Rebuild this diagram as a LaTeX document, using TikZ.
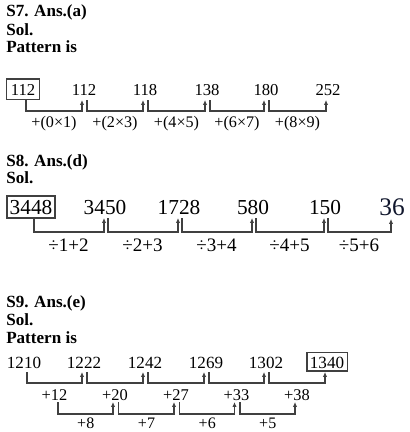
\documentclass[tikz,border=0pt]{standalone}
\usepackage{fontspec}
\setmainfont{Liberation Serif}
\definecolor{SolGrey}{RGB}{64, 64, 64}
\definecolor{SolNavy}{RGB}{16, 22, 44}
\usetikzlibrary{arrows.meta, positioning, calc}

\begin{document}
\begin{tikzpicture}[x=0.75pt, y=-0.75pt,
    head/.style={font=\fontsize{12.8}{14}\selectfont\bfseries, anchor=base west, inner sep=0pt},
    numS/.style={font=\fontsize{12.5}{14}\selectfont, anchor=base, inner sep=0pt},
    numL/.style={font=\fontsize{16}{18}\selectfont, anchor=base, inner sep=0pt},
    opS/.style={font=\fontsize{12.1}{13}\selectfont, anchor=base, inner sep=0pt},
    opL/.style={font=\fontsize{14.3}{16}\selectfont, anchor=base, inner sep=0pt},
    opM/.style={font=\fontsize{12.3}{14}\selectfont, anchor=base, inner sep=0pt},
    ansbox/.style={draw=SolGrey, line width=0.95pt, text height=9.4pt, text depth=0pt, inner ysep=3pt},
    link/.style={draw=SolGrey, line width=0.9pt, -{Latex[length=3.6pt, width=3.2pt]}}]
  \useasboundingbox (0,0) rectangle (410,432);

  % S7
  \node[head] (t7) at (6,16.7) {S7. Ans.(a)};
  \node[head] (s7) at (6,35) {Sol.};
  \node[head] (p7) at (6,52.3) {Pattern is};
  \node[numS, ansbox, inner xsep=3pt] (a1) at (23,95.5) {112};
  \foreach \nm/\xx/\tx in {a2/84/112, a3/145/118, a4/207/138, a5/266/180, a6/328/252}
    \node[numS] (\nm) at (\xx,95.5) {\tx};
  \foreach \i/\j/\op in {1/2/{+(0×1)}, 2/3/{+(2×3)}, 3/4/{+(4×5)}, 4/5/{+(6×7)}, 5/6/{+(8×9)}} {
    \draw[link] ($(a\i.base)+(3,4.5)$) -- ++(0,11) -| ($(a\j.base)+(-2,4.5)$);
    \node[opS] (o\i) at ($(a\i.base)!0.5!(a\j.base)+(0.5,31.5)$) {\op};
  }

  % S8
  \node[head] (t8) at (6,166) {S8. Ans.(d)};
  \node[head] (s8) at (6,183.3) {Sol.};
  \node[numL, ansbox, text height=10.5pt, inner xsep=2pt] (b1) at (31,214) {3448};
  \foreach \nm/\xx/\tx in {b2/105/3450, b3/179/1728, b4/253/580, b5/325/150}
    \node[numL] (\nm) at (\xx,214) {\tx};
  \node[numL, font=\fontsize{19}{21}\selectfont, text=SolNavy] (b6) at (392,215) {36};
  \foreach \i/\j/\op in {1/2/{÷1+2}, 2/3/{÷2+3}, 3/4/{÷3+4}, 4/5/{÷4+5}, 5/6/{÷5+6}} {
    \draw[link] ($(b\i.base)+(3,4)$) -- ++(0,14) -| ($(b\j.base)+(-1,4)$);
    \node[opL] (q\i) at ($(b\i.base)!0.5!(b\j.base)+(0.5,37)$) {\op};
  }

  % S9
  \node[head] (t9) at (6,307.3) {S9. Ans.(e)};
  \node[head] (s9) at (6,325.7) {Sol.};
  \node[head] (p9) at (6,343.3) {Pattern is};
  \foreach \nm/\xx/\tx in {c1/24/1210, c2/84/1222, c3/145/1242, c4/206/1269, c5/266/1302}
    \node[numS, font=\fontsize{12.8}{14}\selectfont] (\nm) at (\xx,368) {\tx};
  \node[numS, font=\fontsize{12.8}{14}\selectfont, ansbox, text height=9.5pt, inner ysep=2.3pt, inner xsep=2.3pt] (c6) at (327,368) {1340};
  \foreach \i/\j/\op in {1/2/+12, 2/3/+20, 3/4/+27, 4/5/+33, 5/6/+38} {
    \draw[link] ($(c\i.base)+(3,4)$) -- ++(0,11) -| ($(c\j.base)+(-2,4)$);
    \node[opM] (r\i) at ($(c\i.base)!0.5!(c\j.base)+(0.5,32)$) {\op};
  }
  \foreach \i/\j/\op in {1/2/+8, 2/3/+7, 3/4/+6, 4/5/+5} {
    \draw[link] ($(r\i.base)+(3.5,2)$) -- ++(0,12) -| ($(r\j.base)+(-2,2)$);
    \node[opM, font=\fontsize{12}{14}\selectfont] (u\i) at ($(r\i.base)!0.5!(r\j.base)+(1,28)$) {\op};
  }
\end{tikzpicture}
\end{document}
